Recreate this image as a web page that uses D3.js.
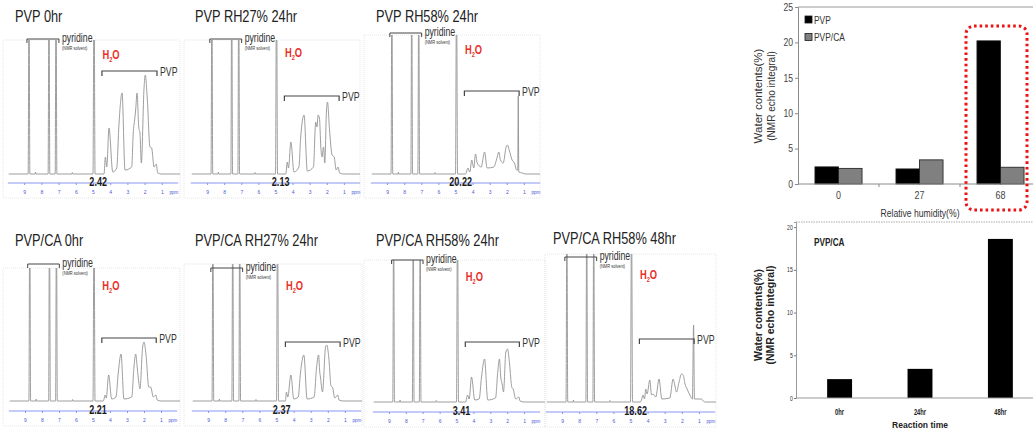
<!DOCTYPE html>
<html>
<head>
<meta charset="utf-8">
<script src="https://cdn.jsdelivr.net/npm/d3@7"></script>
<style>
body { margin: 0; background: #fff; }
svg { display: block; font-family: "Liberation Sans", Arial, sans-serif; }
</style>
</head>
<body>
<svg id="fig" width="1033" height="430"></svg>
<script>
// ---- data ----
var titles = ["PVP 0hr", "PVP RH27% 24hr", "PVP RH58% 24hr",
    "PVP/CA 0hr", "PVP/CA RH27% 24hr", "PVP/CA RH58% 24hr", "PVP/CA RH58% 48hr"];
var waterLabels = ["2.42", "2.13", "20.22", "2.21", "2.37", "3.41", "18.62"];
var ppmTicks = [9, 8, 7, 6, 5, 4, 3, 2, 1];
var pyridineSpan = [8.84, 6.98];
var pvpSpan = [4.48, 1.28];

// pyridine + water lines, [ppm, intensity]
var solventPeaks = [[9.9, 0], [8.77, 0], [8.72, 200], [8.67, 0], [8.36, 0], [8.34, 2], [8.32, 0],
    [7.61, 0], [7.56, 200], [7.51, 0], [7.2, 0], [7.15, 200], [7.1, 0],
    [6.22, 0], [6.2, 1.5], [6.18, 0], [5.0, 0], [4.94, 200], [4.88, 0]];

var pvp0hr = [[4.36, 0], [4.28, 17], [4.2, 7], [4.07, 46], [3.85, 2], [3.62, 6], [3.49, 50], [3.31, 81],
    [3.14, 4], [2.75, 7], [2.66, 41], [2.58, 54], [2.52, 64], [2.44, 81], [2.34, 47], [2.27, 41],
    [2.19, 11], [2.03, 87], [1.96, 99], [1.84, 74], [1.69, 27], [1.59, 26], [1.45, 7], [1.32, 10],
    [1.24, 1], [1.0, 0], [-0.3, 0]];
var pvpRh27 = [[4.4, 0], [4.31, 12], [4.24, 6], [4.1, 32], [3.92, 2], [3.63, 7], [3.53, 36], [3.33, 59],
    [3.14, 3], [2.78, 7], [2.65, 52], [2.57, 47], [2.51, 59], [2.43, 56], [2.35, 27], [2.28, 17],
    [2.19, 27], [2.12, 11], [2.02, 63], [1.96, 72], [1.84, 44], [1.69, 19], [1.57, 17], [1.45, 4],
    [1.34, 7], [1.25, 1], [1.0, 0], [-0.3, 0]];
var pvpRh58 = [[4.42, 0], [4.36, 2], [4.28, 6], [4.16, 2], [4.05, 14], [3.93, 6], [3.83, 20], [3.73, 11],
    [3.5, 7], [3.3, 22], [3.15, 6], [2.76, 7], [2.56, 17], [2.47, 22], [2.37, 14], [2.21, 11],
    [2.04, 27], [1.96, 29], [1.86, 24], [1.69, 14], [1.55, 11], [1.43, 4], [1.36, 4], [1.33, 78],
    [1.3, 2], [1.1, 1], [0.9, 0], [-0.3, 0]];
var caPvp0hr = [[4.4, 0], [4.35, 2], [4.29, 6], [4.22, 3], [4.08, 26], [3.9, 2], [3.65, 4], [3.51, 29],
    [3.35, 47], [3.18, 2], [2.72, 4], [2.59, 34], [2.49, 47], [2.39, 32], [2.31, 19], [2.24, 12],
    [2.08, 54], [2.0, 59], [1.88, 46], [1.72, 14], [1.61, 14], [1.45, 4], [1.31, 6], [1.22, 1],
    [1.0, 0], [-0.3, 0]];
var caRh27 = [[4.48, 0], [4.42, 9], [4.34, 4], [4.16, 26], [3.99, 2], [3.73, 4], [3.6, 28], [3.4, 46],
    [3.21, 2], [2.8, 4], [2.66, 33], [2.54, 46], [2.47, 29], [2.43, 24], [2.31, 9], [2.13, 54],
    [2.06, 56], [1.94, 43], [1.81, 15], [1.73, 14], [1.59, 3], [1.42, 6], [1.34, 1], [1.1, 0], [-0.3, 0]];
var caRh58 = [[4.46, 0], [4.41, 3], [4.35, 7], [4.25, 3], [4.11, 25], [3.92, 2], [3.66, 3], [3.52, 25],
    [3.34, 43], [3.15, 2], [2.69, 4], [2.56, 30], [2.46, 43], [2.38, 25], [2.3, 18], [2.22, 10],
    [2.08, 50], [1.98, 53], [1.86, 38], [1.73, 15], [1.65, 13], [1.49, 3], [1.31, 5], [1.24, 1],
    [1.0, 0], [-0.3, 0]];
var caRh58h48 = [[4.42, 0], [4.36, 2], [4.26, 7], [4.18, 3], [4.11, 13], [4.03, 8], [3.87, 22], [3.77, 7],
    [3.68, 8], [3.52, 5], [3.33, 23], [3.17, 3], [2.7, 4], [2.51, 23], [2.41, 17], [2.31, 10],
    [2.16, 20], [2.02, 28], [1.92, 27], [1.81, 18], [1.69, 13], [1.53, 7], [1.38, 3], [1.31, 77],
    [1.26, 3], [0.85, 3], [0.75, 1], [0.6, 0], [-0.3, 0]];
var pvpRegions = [pvp0hr, pvpRh27, pvpRh58, caPvp0hr, caRh27, caRh58, caRh58h48];

var humidity = ["0", "27", "68"];
var seriesNames = ["PVP", "PVP/CA"];
var pvpWater = [2.42, 2.13, 20.22];
var pvpCaWater = [2.21, 3.41, 2.37];
var humidityTicks = [0, 5, 10, 15, 20, 25];

var reactionTimes = ["0hr", "24hr", "48hr"];
var caWater = [2.21, 3.41, 18.62];
var reactionTicks = [0, 5, 10, 15, 20];

// ---- panel layout (pixels) ----
var panels = [
    {x5: 93, k: 17.2, base: 174, axisY: 183, top: 40, left: 3, right: 180, titleX: 15, titleY: 22, pyrY: 39, pvpY: 71, h2oY: 59},
    {x5: 275.5, k: 17.1, base: 174, axisY: 183, top: 40, left: 184, right: 360, titleX: 195, titleY: 22, pyrY: 39, pvpY: 96, h2oY: 57},
    {x5: 455.5, k: 17.1, base: 174, axisY: 183, top: 35, left: 364, right: 540, titleX: 376, titleY: 22, pyrY: 33, pvpY: 91, h2oY: 54},
    {x5: 93, k: 17.0, base: 401, axisY: 411, top: 268, left: 3, right: 180, titleX: 15, titleY: 246, pyrY: 264, pvpY: 338, h2oY: 290},
    {x5: 276.5, k: 17.1, base: 401, axisY: 411, top: 264, left: 184, right: 362, titleX: 195, titleY: 246, pyrY: 268, pvpY: 342, h2oY: 290},
    {x5: 456.5, k: 16.9, base: 402, axisY: 412, top: 260, left: 364, right: 545, titleX: 376, titleY: 246, pyrY: 260, pvpY: 342, h2oY: 281},
    {x5: 630.5, k: 17.1, base: 402, axisY: 412, top: 254, left: 545, right: 716, titleX: 553, titleY: 244, pyrY: 257, pvpY: 339, h2oY: 279}
];

var svg = d3.select("#fig");
svg.append("rect").attr("width", 1033).attr("height", 430).attr("fill", "#fff");

// text squeezed sideways, the figure uses a narrow face
function label(g, x, y, str, size, sx) {
    return g.append("text")
        .attr("transform", "translate(" + x + "," + y + ") scale(" + sx + ",1)")
        .attr("font-size", size)
        .text(str);
}

var line = d3.line().curve(d3.curveMonotoneX);

panels.forEach(function (p, i) {
    var g = svg.append("g");
    var x = d3.scaleLinear().domain([10, 0]).range([p.x5 - 5 * p.k, p.x5 + 5 * p.k]);
    var y = d3.scaleLinear().domain([0, 100]).range([p.base, p.base - 100]);

    // faint frame
    g.append("rect")
        .attr("x", p.left).attr("y", p.top)
        .attr("width", p.right - p.left).attr("height", p.axisY + 15 - p.top)
        .attr("fill", "none").attr("stroke", "#e6e6e6").attr("stroke-dasharray", "1,1");

    g.append("clipPath").attr("id", "clip" + i)
        .append("rect")
        .attr("x", p.left).attr("y", p.top)
        .attr("width", p.right - p.left).attr("height", p.base - p.top + 2);

    var pts = solventPeaks.concat(pvpRegions[i]);
    g.append("path")
        .attr("clip-path", "url(#clip" + i + ")")
        .attr("d", line.x(function (d) { return x(d[0]); }).y(function (d) { return y(d[1]); })(pts))
        .attr("fill", "none").attr("stroke", "#939393").attr("stroke-width", 0.9);

    // ppm axis
    var ax = g.append("g")
        .attr("transform", "translate(0," + p.axisY + ")")
        .call(d3.axisBottom(x).tickValues(ppmTicks).tickSize(2).tickPadding(5).tickFormat(d3.format("d")));
    ax.select(".domain").attr("stroke", "#8896f0").attr("d", "M" + x(9.95) + ",0H" + x(0.05));
    ax.selectAll(".tick line").attr("stroke", "#8896f0");
    ax.selectAll(".tick text").attr("fill", "#4a5ad8").attr("font-size", 5).attr("font-family", "inherit");
    label(g, x(0.3), p.axisY + 11, "ppm", 4.5, 1)
        .attr("text-anchor", "middle").attr("fill", "#4a5ad8");

    // integral value
    label(g, x(4.7), p.axisY + 2.5, waterLabels[i], 13.5, 0.67)
        .attr("text-anchor", "middle").attr("font-weight", "bold").attr("fill", "#1a1a1a");

    // title
    label(g, p.titleX, p.titleY, titles[i], 16, 0.8).attr("fill", "#222");

    // pyridine bracket
    var bx0 = x(pyridineSpan[0]), bx1 = x(pyridineSpan[1]);
    g.append("path")
        .attr("d", "M" + bx0 + "," + (p.pyrY + 4) + "V" + p.pyrY + "H" + bx1 + "V" + (p.pyrY + 4))
        .attr("fill", "none").attr("stroke", "#444").attr("stroke-width", 1);
    label(g, bx1 + 3, p.pyrY + 3, "pyridine", 12.5, 0.7).attr("fill", "#333");
    label(g, bx1 + 3, p.pyrY + 11, "(NMR solvent)", 5, 0.8).attr("fill", "#333");

    // water label
    var h2o = label(g, x(4.45), p.h2oY, "", 12.5, 0.75)
        .attr("fill", "#e8302a").attr("font-weight", "bold");
    h2o.append("tspan").text("H");
    h2o.append("tspan").attr("font-size", 7.5).attr("dy", 2.5).text("2");
    h2o.append("tspan").attr("dy", -2.5).text("O");

    // PVP bracket
    var px0 = x(pvpSpan[0]), px1 = x(pvpSpan[1]);
    g.append("path")
        .attr("d", "M" + px0 + "," + (p.pvpY + 5) + "V" + p.pvpY + "H" + px1 + "V" + (p.pvpY + 5))
        .attr("fill", "none").attr("stroke", "#444").attr("stroke-width", 1.2);
    label(g, px1 + 3, p.pvpY + 4.5, "PVP", 12.5, 0.7).attr("fill", "#333");
});

// ---- top right: water content vs humidity ----
(function () {
    var left = 798, right = 1041, top = 7, bottom = 184;
    var g = svg.append("g");
    var x0 = d3.scaleBand().domain(humidity).range([left, right]);
    var x1 = d3.scaleBand().domain(seriesNames).range([0, x0.bandwidth()]).paddingOuter(0.72);
    var y = d3.scaleLinear().domain([0, 25]).range([bottom, top]);
    var colors = {"PVP": "#000", "PVP/CA": "#808080"};
    var rows = humidity.map(function (h, i) {
        return {h: h, vals: [{s: "PVP", v: pvpWater[i]}, {s: "PVP/CA", v: pvpCaWater[i]}]};
    });

    g.append("path").attr("d", "M" + left + "," + top + "H1033")
        .attr("stroke", "#9a9a9a").attr("fill", "none");

    g.selectAll(".grp").data(rows).enter().append("g")
        .attr("transform", function (d) { return "translate(" + x0(d.h) + ",0)"; })
        .selectAll("rect").data(function (d) { return d.vals; }).enter().append("rect")
        .attr("x", function (d) { return x1(d.s); })
        .attr("y", function (d) { return y(d.v); })
        .attr("width", x1.bandwidth())
        .attr("height", function (d) { return bottom - y(d.v); })
        .attr("fill", function (d) { return colors[d.s]; })
        .attr("stroke", "#1a1a1a").attr("stroke-width", 0.8);

    var ya = g.append("g").attr("transform", "translate(" + left + ",0)")
        .call(d3.axisLeft(y).tickValues(humidityTicks).tickSize(3).tickPadding(3));
    ya.select(".domain").attr("stroke", "#8a8a8a");
    ya.selectAll(".tick line").attr("stroke", "#8a8a8a");
    ya.selectAll(".tick text").attr("font-size", 10.5).attr("fill", "#444").attr("font-family", "inherit")
        .attr("transform", "scale(0.82,1)");

    var xa = g.append("g").attr("transform", "translate(0," + bottom + ")")
        .call(d3.axisBottom(x0).tickSize(0).tickPadding(8));
    xa.select(".domain").attr("stroke", "#8a8a8a").attr("d", "M" + left + ",0H1033");
    xa.selectAll(".tick text").attr("font-size", 10.5).attr("fill", "#444").attr("font-family", "inherit")
        .attr("transform", "scale(0.85,1)");
    g.selectAll(".sep").data(humidity.slice(1)).enter().append("line")
        .attr("x1", function (d) { return x0(d); }).attr("x2", function (d) { return x0(d); })
        .attr("y1", bottom).attr("y2", bottom + 3).attr("stroke", "#8a8a8a");

    label(g, 920, 217, "Relative humidity(%)", 11.5, 0.75)
        .attr("text-anchor", "middle").attr("fill", "#333");
    g.append("text").attr("transform", "translate(762,96) rotate(-90)")
        .attr("text-anchor", "middle").attr("font-size", 11.5).attr("fill", "#333").text("Water contents(%)");
    g.append("text").attr("transform", "translate(775,96) rotate(-90)")
        .attr("text-anchor", "middle").attr("font-size", 10).attr("fill", "#333").text("(NMR echo integral)");

    var lg = g.selectAll(".lg").data(seriesNames).enter().append("g")
        .attr("transform", function (d, i) { return "translate(805," + (16 + i * 17.5) + ")"; });
    lg.append("rect").attr("width", 7).attr("height", 7)
        .attr("fill", function (d) { return colors[d]; }).attr("stroke", "#1a1a1a").attr("stroke-width", 0.8);
    lg.append("text").attr("transform", "translate(9,7.5) scale(0.8,1)")
        .attr("font-size", 10.5).attr("fill", "#333").text(function (d) { return d; });

    // red highlight round the 68% group
    g.append("rect")
        .attr("x", x0("68") + 6).attr("y", 26)
        .attr("width", 61).attr("height", 184)
        .attr("rx", 8).attr("ry", 8)
        .attr("fill", "none").attr("stroke", "#ee1111").attr("stroke-width", 3)
        .attr("stroke-dasharray", "2.6,3");
})();

// ---- bottom right: PVP/CA water content vs reaction time ----
(function () {
    var left = 796, right = 1041, top = 222, bottom = 398;
    var g = svg.append("g");
    var x = d3.scaleBand().domain(reactionTimes).range([left + 3, right]).paddingInner(0.69).paddingOuter(0.35);
    var y = d3.scaleLinear().domain([0, 20.6]).range([bottom, top]);

    g.append("path").attr("d", "M" + left + "," + top + "H1033")
        .attr("stroke", "#aaa").attr("stroke-dasharray", "1.5,1").attr("fill", "none");

    g.selectAll(".bar").data(caWater).enter().append("rect")
        .attr("x", function (d, i) { return x(reactionTimes[i]); })
        .attr("y", function (d) { return y(d); })
        .attr("width", x.bandwidth())
        .attr("height", function (d) { return bottom - y(d); })
        .attr("fill", "#000");

    var ya = g.append("g").attr("transform", "translate(" + left + ",0)")
        .call(d3.axisLeft(y).tickValues(reactionTicks).tickSize(2).tickPadding(2));
    ya.select(".domain").attr("stroke", "#999");
    ya.selectAll(".tick line").attr("stroke", "#777");
    ya.selectAll(".tick text").attr("font-size", 6.5).attr("fill", "#333").attr("font-family", "inherit")
        .attr("transform", "scale(0.8,1)");

    var xa = g.append("g").attr("transform", "translate(0," + bottom + ")")
        .call(d3.axisBottom(x).tickSize(0).tickPadding(11));
    xa.select(".domain").attr("stroke", "#999").attr("d", "M" + left + ",0H1033");
    xa.selectAll(".tick text").attr("font-size", 8.5).attr("font-weight", "bold").attr("fill", "#222")
        .attr("font-family", "inherit").attr("transform", "scale(0.68,1)");

    label(g, 920, 428, "Reaction time", 9.5, 0.9)
        .attr("text-anchor", "middle").attr("font-weight", "bold").attr("fill", "#222");
    label(g, 814, 246, "PVP/CA", 10, 0.82)
        .attr("font-weight", "bold").attr("fill", "#222");
    g.append("text").attr("transform", "translate(762,315) rotate(-90)")
        .attr("text-anchor", "middle").attr("font-size", 10.5).attr("font-weight", "bold").attr("fill", "#222").text("Water contents(%)");
    g.append("text").attr("transform", "translate(774,315) rotate(-90)")
        .attr("text-anchor", "middle").attr("font-size", 10.5).attr("font-weight", "bold").attr("fill", "#222").text("(NMR echo integral)");
})();
</script>
</body>
</html>
